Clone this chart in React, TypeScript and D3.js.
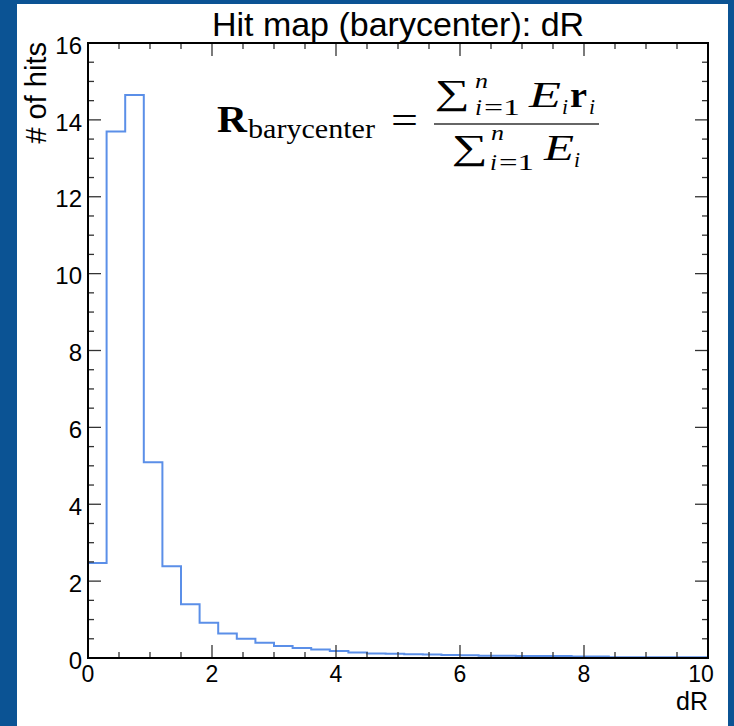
import * as d3 from 'd3';
import { useEffect, useRef } from 'react';

// histogram of dR, bin width 0.3 starting at 0
const binWidth = 0.3;
const counts = [
  2.47, 13.7, 14.65, 5.09, 2.39, 1.4, 0.92, 0.64, 0.5, 0.4, 0.31, 0.26, 0.22, 0.18,
  0.14, 0.12, 0.11, 0.1, 0.09, 0.08, 0.07, 0.06, 0.06, 0.05, 0.05, 0.05, 0.04, 0.04,
  0.02, 0.02, 0.02, 0.02, 0.02, 0.02,
];
const xMajor = [0, 2, 4, 6, 8, 10];
const yMajor = [0, 2, 4, 6, 8, 10, 12, 14, 16];
const xDomain = [0, 10];
const yDomain = [0, 16];

const W = 734;
const H = 726;

export default function App() {
  const svgRef = useRef<SVGSVGElement>(null);

  useEffect(() => {
    if (!svgRef.current) return;
    const svg = d3.select(svgRef.current);
    svg.selectAll('*').remove();

    const margin = { top: 43, right: 26, bottom: 68, left: 88 };
    const innerW = W - margin.left - margin.right;
    const innerH = H - margin.top - margin.bottom;

    // blue frame + white panel
    svg.append('rect').attr('width', W).attr('height', H).attr('fill', '#0b5394');
    svg.append('rect').attr('x', 17).attr('y', 4).attr('width', 711).attr('height', H - 4).attr('fill', '#fff');

    const x = d3.scaleLinear().domain(xDomain).range([0, innerW]);
    const y = d3.scaleLinear().domain(yDomain).range([innerH, 0]);

    const g = svg.append('g').attr('transform', `translate(${margin.left},${margin.top})`);

    g.append('clipPath').attr('id', 'plot-clip')
      .append('rect').attr('width', innerW).attr('height', innerH);

    // step histogram
    const pts: [number, number][] = [[0, 0]];
    counts.forEach((c, i) => pts.push([Math.min(i * binWidth, xDomain[1]), c]));
    pts.push([xDomain[1], counts[counts.length - 1]]);
    const line = d3.line<[number, number]>()
      .x(d => x(d[0]))
      .y(d => y(d[1]))
      .curve(d3.curveStepAfter);
    g.append('path')
      .attr('d', line(pts))
      .attr('clip-path', 'url(#plot-clip)')
      .attr('fill', 'none')
      .attr('stroke', '#5b8fe8')
      .attr('stroke-width', 2);

    // ticks on all four sides, pointing inward
    const xMinor = d3.range(xDomain[0], xDomain[1] + 0.001, 0.5).filter(v => !xMajor.includes(v));
    const yMinor = d3.range(yDomain[0], yDomain[1] + 0.001, 0.5).filter(v => !yMajor.includes(v));
    const tickColor = '#333';
    const drawX = (vals: number[], len: number) => {
      vals.forEach(v => {
        g.append('line').attr('x1', x(v)).attr('x2', x(v)).attr('y1', innerH).attr('y2', innerH - len)
          .attr('stroke', tickColor).attr('stroke-width', 1.3);
        g.append('line').attr('x1', x(v)).attr('x2', x(v)).attr('y1', 0).attr('y2', len)
          .attr('stroke', tickColor).attr('stroke-width', 1.3);
      });
    };
    const drawY = (vals: number[], len: number) => {
      vals.forEach(v => {
        g.append('line').attr('x1', 0).attr('x2', len).attr('y1', y(v)).attr('y2', y(v))
          .attr('stroke', tickColor).attr('stroke-width', 1.3);
        g.append('line').attr('x1', innerW).attr('x2', innerW - len).attr('y1', y(v)).attr('y2', y(v))
          .attr('stroke', tickColor).attr('stroke-width', 1.3);
      });
    };
    drawX(xMajor, 13);
    drawX(xMinor, 6);
    drawY(yMajor, 13);
    drawY(yMinor, 6);

    // frame
    g.append('rect').attr('width', innerW).attr('height', innerH)
      .attr('fill', 'none').attr('stroke', '#000').attr('stroke-width', 2);

    const sans = '"Liberation Sans", Arial, sans-serif';

    // the last label sits slightly inside the right edge
    g.selectAll('.xl').data(xMajor).join('text')
      .attr('x', d => (d === xDomain[1] ? x(d) - 7 : x(d))).attr('y', innerH + 24)
      .attr('text-anchor', 'middle')
      .style('font-family', sans).style('font-size', '23px')
      .text(d => d);

    g.selectAll('.yl').data(yMajor).join('text')
      .attr('x', -6).attr('y', d => y(d) + 2).attr('dy', '0.36em')
      .attr('text-anchor', 'end')
      .style('font-family', sans).style('font-size', '24px')
      .text(d => d);

    svg.append('text')
      .attr('x', margin.left + innerW / 2).attr('y', 36)
      .attr('text-anchor', 'middle')
      .style('font-family', sans).style('font-size', '34px')
      .text('Hit map (barycenter): dR');

    svg.append('text')
      .attr('x', margin.left + innerW).attr('y', 710)
      .attr('text-anchor', 'end')
      .style('font-family', sans).style('font-size', '25px')
      .text('dR');

    svg.append('text')
      .attr('transform', 'translate(46,42) rotate(-90)')
      .attr('text-anchor', 'end')
      .style('font-family', sans).style('font-size', '29px')
      .text('# of hits');

    // formula
    const serif = '"Liberation Serif", "DejaVu Serif", serif';
    const tx = (s: string, px: number, py: number, size: number, len: number, opts: { bold?: boolean; italic?: boolean } = {}) => {
      svg.append('text')
        .attr('x', px).attr('y', py)
        .attr('textLength', len).attr('lengthAdjust', 'spacingAndGlyphs')
        .style('font-family', serif).style('font-size', `${size}px`)
        .style('font-weight', opts.bold ? 'bold' : 'normal')
        .style('font-style', opts.italic ? 'italic' : 'normal')
        .text(s);
    };
    tx('R', 217, 132, 38, 30, { bold: true });
    tx('barycenter', 248, 138, 27, 127);
    tx('=', 391, 133, 38, 27);
    svg.append('line').attr('x1', 434).attr('x2', 599).attr('y1', 124).attr('y2', 124)
      .attr('stroke', '#666').attr('stroke-width', 2);
    // numerator
    tx('∑', 435, 104, 35, 35);
    tx('n', 475, 88, 22, 13, { italic: true });
    tx('i', 475, 115, 24, 7, { italic: true });
    tx('=1', 484, 115, 24, 36);
    tx('E', 529, 107, 36, 32, { italic: true });
    tx('i', 562, 114, 22, 6, { italic: true });
    tx('r', 570, 107, 36, 17, { bold: true });
    tx('i', 589, 114, 22, 6, { italic: true });
    // denominator
    tx('∑', 452, 159, 35, 36);
    tx('n', 491, 140, 22, 13, { italic: true });
    tx('i', 490, 170, 24, 7, { italic: true });
    tx('=1', 499, 170, 24, 35);
    tx('E', 544, 160, 36, 30, { italic: true });
    tx('i', 574, 167, 22, 6, { italic: true });
  }, []);

  return (
    <svg
      ref={svgRef}
      width={W}
      height={H}
      style={{ position: 'absolute', left: 0, top: 0, display: 'block' }}
    />
  );
}
